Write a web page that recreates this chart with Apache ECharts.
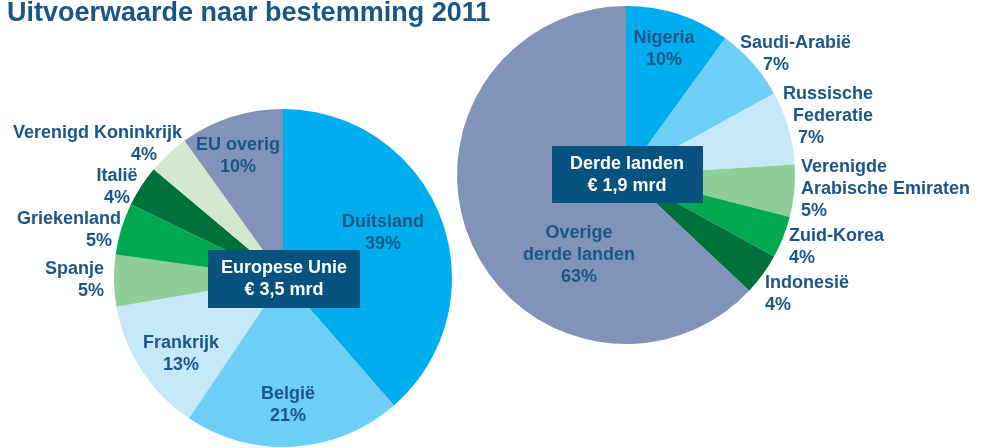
<!DOCTYPE html>
<html>
<head>
<meta charset="utf-8">
<script src="https://cdn.jsdelivr.net/npm/echarts@6/dist/echarts.min.js"></script>
<style>
  html, body { margin: 0; padding: 0; background: #fff; }
  #main { width: 986px; height: 448px; }
</style>
</head>
<body>
<div id="main"></div>
<script>
// Europese Unie
var euLanden = ['Duitsland', 'België', 'Frankrijk', 'Spanje', 'Griekenland', 'Italië', 'Verenigd Koninkrijk', 'EU overig'];
var euAandeel = [39, 21, 13, 5, 5, 4, 4, 10];

// Derde landen
var derdeLanden = ['Nigeria', 'Saudi-Arabië', 'Russische\nFederatie', 'Verenigde\nArabische Emiraten', 'Zuid-Korea', 'Indonesië', 'Overige\nderde landen'];
var derdeAandeel = [10, 7, 7, 5, 4, 4, 63];

var euKleuren = ['#00aeef', '#6dcff6', '#c6e9fa', '#8fce98', '#00a94f', '#00713d', '#d2e9cd', '#8193b8'];
var derdeKleuren = ['#00aeef', '#6dcff6', '#c6e9fa', '#8fce98', '#00a94f', '#00713d', '#8193b8'];

// plaats van de labels (zoals handmatig geplaatst in het origineel): [x, y, uitlijning, inspringing per regel]
var euLabelPlek = [
    [383, 233, 'center'],
    [288, 405, 'center'],
    [181, 354, 'center'],
    [104, 280, 'right'],
    [121, 230, 'right', [0, 9]],
    [117, 187, 'center'],
    [182, 144, 'right', [0, 25]],
    [238, 156, 'center']
];
var derdeLabelPlek = [
    [664, 49, 'center'],
    [740, 54, 'left', [0, 23]],
    [783, 116, 'left', [0, 10, 15]],
    [801, 189, 'left'],
    [789, 247, 'left'],
    [765, 294, 'left'],
    [579, 255, 'center']
];

var tekstKleur = '#1b5689';
var boxKleur = '#07527f';
var fontFam = '"Liberation Sans", Arial, sans-serif';

function maakData(namen, waarden, kleuren, plekken) {
    var data = [];
    for (var i = 0; i < namen.length; i++) {
        var regels = (namen[i] + '\n' + waarden[i] + '%').split('\n');
        var inspring = plekken[i][3] || [];
        var align = plekken[i][2];
        var rich = {};
        var tekst = [];
        for (var j = 0; j < regels.length; j++) {
            var pad = inspring[j] || 0;
            rich['r' + j] = {
                color: tekstKleur,
                fontFamily: fontFam,
                fontWeight: 'bold',
                fontSize: 18,
                lineHeight: 22,
                align: align,
                padding: align === 'right' ? [0, pad, 0, 0] : [0, 0, 0, pad]
            };
            tekst.push('{r' + j + '|' + regels[j] + '}');
        }
        data.push({
            name: namen[i],
            value: waarden[i],
            itemStyle: { color: kleuren[i] },
            label: { formatter: tekst.join('\n'), rich: rich, align: align }
        });
    }
    return data;
}

function plaatsLabel(plekken) {
    return function (params) {
        var p = plekken[params.dataIndex];
        return { x: p[0], y: p[1], align: p[2], verticalAlign: 'middle', hideOverlap: false };
    };
}

var myChart = echarts.init(document.getElementById('main'));

var boxTekst = { fill: '#fff', font: 'bold 18px ' + fontFam, lineHeight: 22, align: 'center', verticalAlign: 'middle' };

myChart.setOption({
    animation: false,
    title: {
        text: 'Uitvoerwaarde naar bestemming 2011',
        left: 2,
        top: -5,
        textStyle: { color: '#175785', fontFamily: fontFam, fontWeight: 'bold', fontSize: 27 }
    },
    series: [
        {
            type: 'pie',
            center: [283, 278],
            radius: 169,
            startAngle: 90,
            clockwise: true,
            avoidLabelOverlap: false,
            label: { show: true, position: 'inside' },
            labelLine: { show: false },
            labelLayout: plaatsLabel(euLabelPlek),
            data: maakData(euLanden, euAandeel, euKleuren, euLabelPlek)
        },
        {
            type: 'pie',
            center: [626, 175],
            radius: 169,
            startAngle: 90,
            clockwise: true,
            avoidLabelOverlap: false,
            label: { show: true, position: 'inside' },
            labelLine: { show: false },
            labelLayout: plaatsLabel(derdeLabelPlek),
            data: maakData(derdeLanden, derdeAandeel, derdeKleuren, derdeLabelPlek)
        }
    ],
    graphic: [
        { type: 'rect', shape: { x: 208, y: 250, width: 152, height: 58 }, style: { fill: boxKleur }, z: 100 },
        { type: 'text', x: 284, y: 279, style: Object.assign({ text: 'Europese Unie\n€ 3,5 mrd' }, boxTekst), z: 101 },
        { type: 'rect', shape: { x: 552, y: 146, width: 151, height: 57 }, style: { fill: boxKleur }, z: 100 },
        { type: 'text', x: 627, y: 175, style: Object.assign({ text: 'Derde landen\n€ 1,9 mrd' }, boxTekst), z: 101 }
    ]
});
</script>
</body>
</html>
